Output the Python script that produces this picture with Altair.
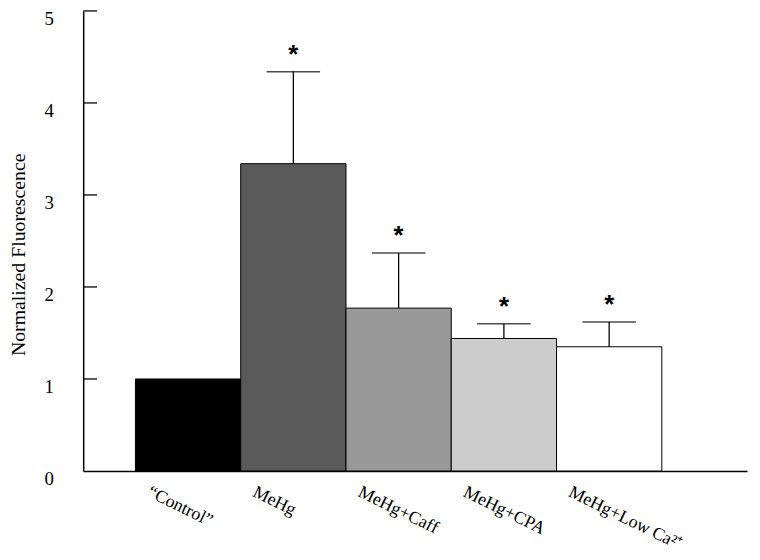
import altair as alt
import pandas as pd

groups = ["\u201cControl\u201d", "MeHg", "MeHg+Caff", "MeHg+CPA", "MeHg+Low Ca\u00b2\u207a"]
means = [1.0, 3.34, 1.77, 1.44, 1.35]
errors = [0.0, 1.00, 0.60, 0.16, 0.27]
significant = [False, True, True, True, True]
fills = ["#000000", "#5a5a5a", "#999999", "#cccccc", "#ffffff"]
ytick_values = [1, 2, 3, 4, 5]

df = pd.DataFrame({
    "group": groups,
    "mean": means,
    "top": [m + e for m, e in zip(means, errors)],
    "sig": significant,
})
ticks_df = pd.DataFrame({"v": ytick_values})

FONT = "Liberation Serif"

x_axis = alt.Axis(
    title=None,
    ticks=False,
    tickSize=0,
    labelAngle=26,
    labelAlign="left",
    labelBaseline="top",
    labelOffset=-36,
    labelPadding=12,
    labelFontSize=18,
)
x_scale = alt.Scale(paddingInner=0, paddingOuter=0.653, align=0.38)
x_enc = alt.X("group:N", sort=groups, scale=x_scale, axis=x_axis)

y_scale = alt.Scale(domain=[0, 5], nice=False)
y_axis = alt.Axis(
    title="Normalized Fluorescence",
    values=[0, 1, 2, 3, 4, 5],
    format="d",
    ticks=False,
    tickSize=0,
    grid=False,
    labelPadding=30,
    labelOffset=8,
    labelFontSize=19,
    titleFontSize=20,
    titleBaseline="middle",
    titleX=-65,
    titleY=246,
)

bars = alt.Chart(df).mark_bar(stroke="#000000", strokeWidth=1).encode(
    x=x_enc,
    y=alt.Y("mean:Q", scale=y_scale, axis=y_axis),
    fill=alt.Fill("group:N", sort=groups,
                  scale=alt.Scale(domain=groups, range=fills), legend=None),
)

sig_df = df[df["sig"]]
err_rule = alt.Chart(sig_df).mark_rule(color="#000000", strokeWidth=1.3).encode(
    x=x_enc,
    y=alt.Y("mean:Q", scale=y_scale, axis=y_axis),
    y2="top:Q",
)
caps = alt.Chart(sig_df).mark_tick(color="#000000", size=54, thickness=1.5, orient="horizontal").encode(
    x=x_enc,
    y=alt.Y("top:Q", scale=y_scale, axis=y_axis),
)
stars = alt.Chart(sig_df).mark_text(
    text="*", font="Liberation Sans", fontWeight="bold", fontSize=26,
    baseline="alphabetic", dy=-9, color="#000000",
).encode(
    x=x_enc,
    y=alt.Y("top:Q", scale=y_scale, axis=y_axis),
)
yticks = alt.Chart(ticks_df).mark_rule(color="#000000", strokeWidth=1.3).encode(
    y=alt.Y("v:Q", scale=y_scale, axis=y_axis),
    x=alt.value(0),
    x2=alt.value(14),
)

chart = alt.layer(bars, err_rule, caps, stars, yticks).properties(
    width=671,
    height=465,
    padding={"left": 76, "top": 0, "right": 5, "bottom": 87},
    autosize=alt.AutoSizeParams(type="none"),
).configure_view(stroke=None).configure_axis(
    grid=False,
    labelFont=FONT,
    labelColor="#000000",
    titleFont=FONT,
    titleFontWeight="normal",
    titleColor="#000000",
    domainColor="#000000",
    domainWidth=1.5,
)

chart.save("out.html", embed_options={"renderer": "svg", "actions": False})
